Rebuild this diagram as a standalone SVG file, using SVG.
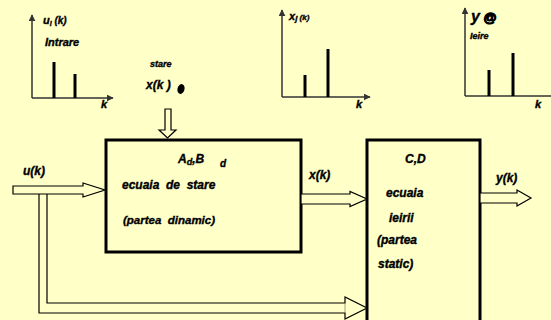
<svg xmlns="http://www.w3.org/2000/svg" width="551" height="320" viewBox="0 0 551 320">
<defs>
<style>
.t{font-family:"Liberation Sans",Arial,sans-serif;font-weight:bold;font-style:italic;fill:#000;stroke:#000;stroke-width:0.35;}
.ax{stroke:#333;stroke-width:1.5;fill:none;}
.bar{stroke:#000;stroke-width:3;}
.blk{fill:none;stroke:#000;stroke-width:3;}
.ha{fill:#ffffc8;stroke:#000;stroke-width:1.2;stroke-linejoin:miter;}
.ln{fill:none;stroke:#000;stroke-width:1.2;}
</style>
<marker id="ah" viewBox="0 0 10 10" refX="9" refY="5" markerWidth="7" markerHeight="7" markerUnits="userSpaceOnUse" orient="auto">
<path d="M0,0 L10,5 L0,10 Z" fill="#333"/>
</marker>
</defs>
<rect width="551" height="320" fill="#ffffc8"/>

<g id="chart-input">
<path class="ax" d="M32,98 L32,15" marker-end="url(#ah)"/>
<path class="ax" d="M32,98 L113,98" marker-end="url(#ah)"/>
<line class="bar" x1="54" y1="62" x2="54" y2="98"/>
<line class="bar" x1="75" y1="74" x2="75" y2="98"/>
<text class="t" x="43" y="24" font-size="11">u<tspan font-size="7" dy="2">I</tspan><tspan dy="-2" font-size="10">  (k)</tspan></text>
<text class="t" x="45" y="46" font-size="11">Intrare</text>
<text class="t" x="101" y="108" font-size="11">k</text>
</g>

<g id="chart-state">
<path class="ax" d="M282,97 L282,10" marker-end="url(#ah)"/>
<path class="ax" d="M282,97 L370,97" marker-end="url(#ah)"/>
<line class="bar" x1="305" y1="75" x2="305" y2="97"/>
<line class="bar" x1="328" y1="49" x2="328" y2="97"/>
<text class="t" x="289" y="20" font-size="11">x<tspan font-size="8" dy="1">j</tspan><tspan dy="-1" font-size="8">  (k)</tspan></text>
<text class="t" x="356" y="108" font-size="11">k</text>
</g>

<g id="chart-output">
<path class="ax" d="M465,96 L465,8" marker-end="url(#ah)"/>
<path class="ax" d="M465,96 L551,96"/>
<line class="bar" x1="489" y1="70" x2="489" y2="96"/>
<line class="bar" x1="513" y1="53" x2="513" y2="96"/>
<text class="t" x="471" y="22" font-size="16">y<tspan font-size="13" stroke-width="1.3"> @</tspan></text>
<text class="t" x="470" y="39" font-size="9">Ieire</text>
<text class="t" x="535" y="108" font-size="11">k</text>
</g>

<g id="state-input">
<text class="t" x="150" y="67" font-size="9">stare</text>
<text class="t" x="146" y="89" font-size="12">x(k )</text>
<ellipse cx="181" cy="89" rx="3.5" ry="5" transform="rotate(15 181 89)" fill="#000"/>
</g>

<g id="block-dynamic">
<rect class="blk" x="106" y="140" width="195" height="112"/>
<text class="t" x="178" y="163" font-size="12">A<tspan font-size="9" dy="2">d</tspan><tspan dy="-2">,B</tspan></text>
<text class="t" x="220" y="167" font-size="10">d</text>
<text class="t" x="122" y="189" font-size="12" xml:space="preserve">ecuaia  de  stare</text>
<text class="t" x="123" y="224" font-size="11.5" xml:space="preserve">(partea  dinamic)</text>
</g>

<g id="block-static">
<rect class="blk" x="367" y="140" width="113" height="200"/>
<text class="t" x="405" y="163" font-size="12">C,D</text>
<text class="t" x="386" y="197" font-size="12">ecuaia</text>
<text class="t" x="389" y="222" font-size="12">ieirii</text>
<text class="t" x="377" y="244" font-size="12">(partea</text>
<text class="t" x="378" y="268" font-size="12">static)</text>
</g>

<g id="connectors">
<polygon class="ha" points="13,186 83,186 83,183 105,190 83,197 83,194 13,194"/>
<polygon class="ha" points="165,109 171,109 171,130 176,130 167.5,138 159,130 165,130"/>
<polygon class="ha" points="301,194 350,194 350,191.5 367,199 350,206.5 350,204 301,204"/>
<polygon class="ha" points="480,193 517,193 517,190 531,198 517,206 517,203 480,203"/>
<path class="ln" d="M39,194 L39,313 L345,313"/>
<path class="ln" d="M47,194 L47,303 L345,303"/>
<polygon class="ha" points="345,303 345,297 367,308 345,319 345,313 345,303"/>
<line x1="345" y1="303.6" x2="345" y2="312.4" stroke="#ffffc8" stroke-width="1.4"/>
<text class="t" x="23" y="175" font-size="12">u(k)</text>
<text class="t" x="309" y="179" font-size="12">x(k)</text>
<text class="t" x="496" y="182" font-size="12">y(k)</text>
</g>
</svg>
